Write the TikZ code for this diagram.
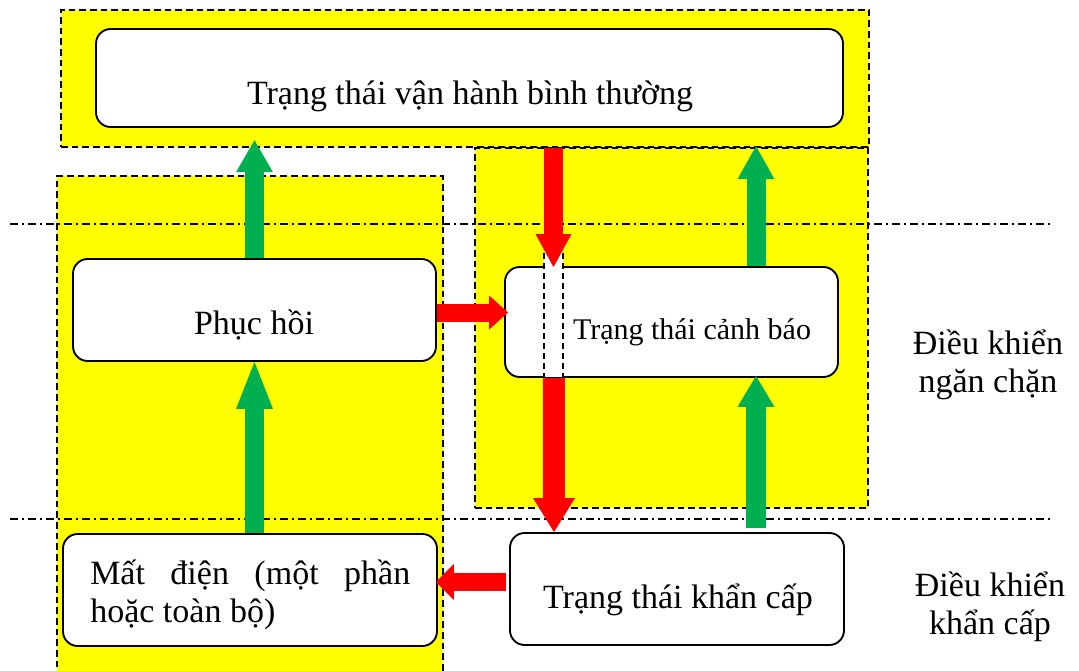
\documentclass[tikz,border=0pt]{standalone}
\usepackage{fontspec}
\setmainfont{Liberation Serif}
\usetikzlibrary{arrows.meta}
\definecolor{zoneyellow}{RGB}{255,255,0}
\definecolor{okgreen}{RGB}{0,176,80}
\definecolor{alarmred}{RGB}{255,0,0}

\begin{document}
\begin{tikzpicture}[x=0.75pt, y=-0.75pt,
  zone/.style={rectangle, fill=zoneyellow, draw=black, line width=1.8pt,
    dash pattern=on 5pt off 3pt, inner sep=0pt},
  statebox/.style={rectangle, draw=black, fill=white, line width=1.4pt,
    rounded corners=11pt, inner sep=0pt},
  sepline/.style={draw=black, line width=1.3pt, dash pattern=on 6pt off 3pt on 1.5pt off 3pt},
  lbl/.style={inner sep=0pt, anchor=base, font=\fontsize{25.5pt}{28pt}\selectfont},
  sidelbl/.style={inner sep=0pt, anchor=base, align=center,
    font=\fontsize{25.5pt}{28pt}\selectfont},
  % block arrows: thick shaft plus filled triangular head
  blockarrow/.style n args={4}{draw=#1, line width=#2, line cap=butt,
    -{Triangle[width=#3, length=#4, line width=0pt, fill=#1]}},
]
\useasboundingbox (0,0) rectangle (1079,671);
\clip (0,0) rectangle (1079,671);

% shaded control zones
\node[zone, minimum width=606pt, minimum height=102.75pt] (ztop) at (465,78.5) {};
\node[zone, minimum width=289.5pt, minimum height=385.5pt] (zleft) at (250,433) {};
\node[zone, minimum width=294.75pt, minimum height=270pt] (zright) at (671.5,328) {};

% dash-dot boundaries between control levels
\coordinate (s1a) at (10,224);
\coordinate (s1b) at (1050,224);
\coordinate (s2a) at (10,519);
\coordinate (s2b) at (1050,519);
\draw[sepline] (s1a) -- (s1b);
\draw[sepline] (s2a) -- (s2b);

% system states
\node[statebox, minimum width=560.25pt, minimum height=73.5pt] (normal) at (469.5,78) {};
\node[statebox, minimum width=272.25pt, minimum height=76.5pt] (restore) at (254.5,310) {};
\node[statebox, minimum width=249.75pt, minimum height=82.5pt] (alert) at (671.5,322) {};
\node[statebox, minimum width=280.5pt, minimum height=84pt] (outage) at (250,590) {};
\node[statebox, minimum width=250.5pt, minimum height=84pt] (emerg) at (677,589) {};

% open strip through the alert box
\fill[white] (544,253) rectangle (563,377);
\draw[black, line width=1.3pt, dash pattern=on 4.5pt off 3pt] (544,253) -- (544,377);
\draw[black, line width=1.3pt, dash pattern=on 4.5pt off 3pt] (563,253) -- (563,377);

% green transitions (towards normal operation)
\draw[blockarrow={okgreen}{14.25pt}{27.75pt}{24pt}]
  (restore.north) -- ([yshift=6pt]ztop.south -| restore.north);
\draw[blockarrow={okgreen}{14.25pt}{27.75pt}{35.25pt}]
  (restore.south |- outage.north) -- (restore.south);
\draw[blockarrow={okgreen}{15pt}{27.75pt}{23.25pt}]
  ([yshift=3pt]756,0 |- emerg.north) -- ([yshift=1.5pt]756,0 |- alert.south);
\draw[blockarrow={okgreen}{14.25pt}{27.75pt}{24.75pt}]
  (756,0 |- alert.north) -- ([yshift=1.5pt]756,0 |- ztop.south);

% red transitions (towards degraded states)
\draw[blockarrow={alarmred}{14.25pt}{27pt}{24.75pt}]
  (553.5,0 |- ztop.south) -- ([yshift=-0.75pt]553.5,0 |- alert.north);
\draw[blockarrow={alarmred}{16.5pt}{31.5pt}{25.5pt}]
  (554,0 |- alert.south) -- (554,0 |- emerg.north);
\draw[blockarrow={alarmred}{13.5pt}{25.5pt}{14.25pt}]
  (restore.east |- 0,312.5) -- ([xshift=3pt]alert.west |- 0,312.5);
\draw[blockarrow={alarmred}{13.5pt}{27pt}{13.5pt}]
  ([xshift=-2.25pt]emerg.west |- 0,582) -- ([xshift=-1.5pt]outage.east |- 0,582);

% state labels
\node[lbl] (tnormal) at (470,104) {Trạng thái vận hành bình thường};
\node[lbl] (trestore) at (254,334) {Phục hồi};
\node[lbl, font=\fontsize{22.5pt}{26pt}\selectfont] (talert) at (692,339) {Trạng thái cảnh báo};
\node[lbl] (temerg) at (678,608) {Trạng thái khẩn cấp};
% multi-line labels: the base anchor sits on the last line
\node[inner sep=0pt, anchor=base west, align=left,
  font=\fontsize{25.5pt}{28.5pt}\selectfont] (toutage) at (90,622)
  {\makebox[240pt][s]{Mất điện (một phần}\\hoặc toàn bộ)};

% control level labels
\node[sidelbl] (prevent) at (988,392) {Điều khiển\\ngăn chặn};
\node[sidelbl] (emergctl) at (990,634) {Điều khiển\\khẩn cấp};
\end{tikzpicture}
\end{document}
